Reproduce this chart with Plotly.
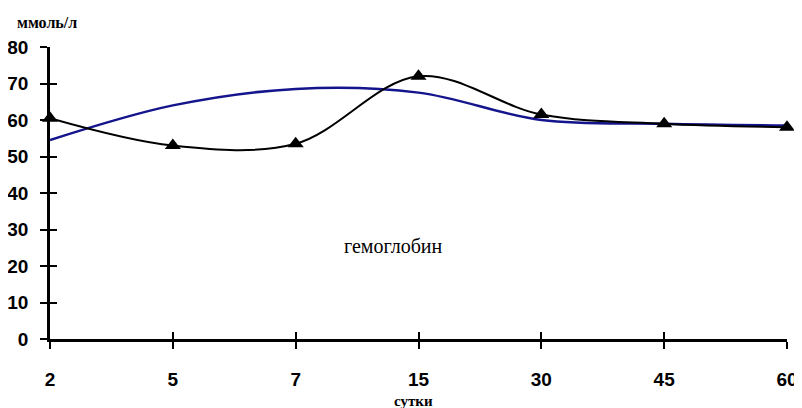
import plotly.graph_objects as go

days = ["2", "5", "7", "15", "30", "45", "60"]
black_vals = [60.5, 53, 53.5, 72, 61.5, 59, 58]
blue_vals = [54.5, 64, 68.5, 67.5, 60, 59, 58.5]
y_ticks = [0, 10, 20, 30, 40, 50, 60, 70, 80]

pos = list(range(len(days)))
lab_font = dict(family="Liberation Sans, Arial", size=19, color="black", weight="bold")

fig = go.Figure()
fig.add_trace(go.Scatter(x=pos, y=blue_vals, mode="lines",
                         line=dict(color="#14148c", width=2.5, shape="spline", smoothing=1),
                         showlegend=False, cliponaxis=False))
fig.add_trace(go.Scatter(x=pos, y=black_vals, mode="lines+markers",
                         line=dict(color="black", width=2, shape="spline", smoothing=1),
                         marker=dict(symbol="triangle-up", size=14, color="black"),
                         showlegend=False, cliponaxis=False))

# page body has an 8px default margin, so the figure is sized/offset to compensate
fig.update_layout(
    width=794, height=400,
    margin=dict(l=42, r=15, t=39, b=69),
    plot_bgcolor="white", paper_bgcolor="white",
    xaxis=dict(range=[0, 6], tickvals=pos, ticktext=days, showgrid=False, zeroline=False,
               showline=True, linecolor="black", linewidth=2.5, ticks="outside", ticklen=7,
               tickwidth=2, tickcolor="black", tickfont=lab_font, ticklabelstandoff=14,
               automargin=False),
    yaxis=dict(range=[0, 80], tickvals=y_ticks, showgrid=False, zeroline=False,
               showline=True, linecolor="black", linewidth=2.5, ticks="outside", ticklen=7,
               tickwidth=2, tickcolor="black", tickfont=lab_font, ticklabelstandoff=8,
               automargin=False),
    xaxis2=dict(range=[0, 6], overlaying="x", anchor="y", tickvals=pos, showticklabels=False,
                showgrid=False, zeroline=False, showline=False, ticks="inside", ticklen=7,
                tickwidth=2, tickcolor="black", side="bottom", automargin=False),
    yaxis2=dict(range=[0, 80], overlaying="y", anchor="x", tickvals=y_ticks, showticklabels=False,
                showgrid=False, zeroline=False, showline=False, ticks="inside", ticklen=7,
                tickwidth=2, tickcolor="black", side="left", automargin=False),
    annotations=[
        dict(text="ммоль/л", xref="paper", yref="paper", x=-0.047, y=1.085, xanchor="left",
             yanchor="middle", showarrow=False,
             font=dict(family="Liberation Serif, Times New Roman", size=16, color="black", weight="bold")),
        dict(text="гемоглобин", xref="x", yref="y", x=2.8, y=25.5, showarrow=False,
             font=dict(family="Liberation Serif, Times New Roman", size=20, color="black")),
        dict(text="сутки", xref="x", yref="paper", x=2.96, y=-0.212, yanchor="middle", showarrow=False,
             font=dict(family="Liberation Serif, Times New Roman", size=15, color="black", weight="bold")),
    ],
)
fig.add_trace(go.Scatter(x=[0], y=[0], xaxis="x2", yaxis="y2", mode="markers",
                         marker=dict(opacity=0), showlegend=False, hoverinfo="skip"))

fig.write_html("out.html")
